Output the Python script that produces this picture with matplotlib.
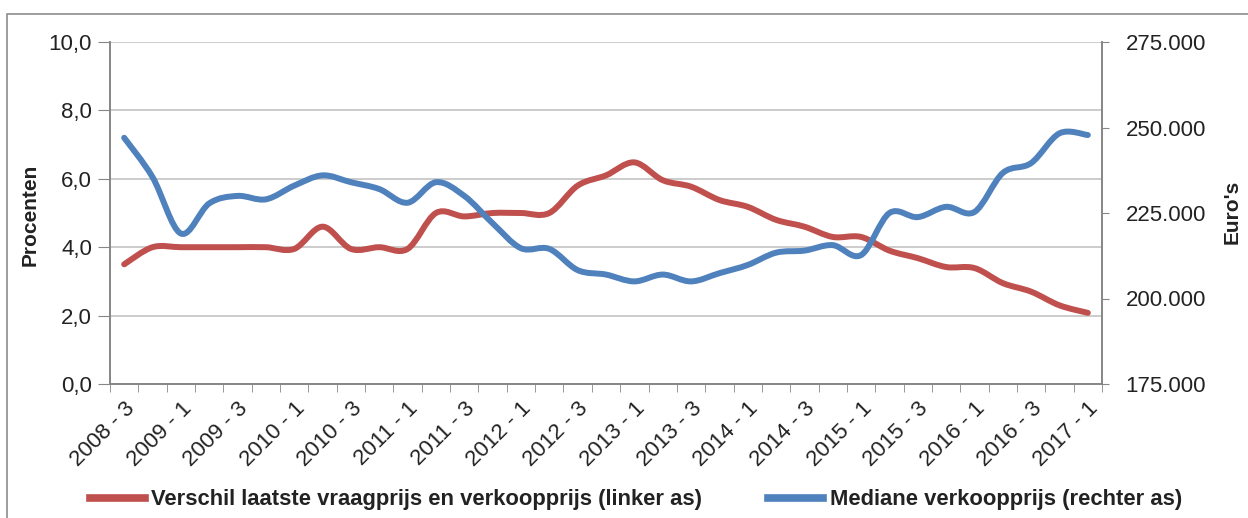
import matplotlib.pyplot as plt
import matplotlib.ticker as mticker
from matplotlib.path import Path
from matplotlib.patches import PathPatch, Rectangle
from matplotlib.lines import Line2D

plt.rcParams['font.family'] = ['Liberation Sans', 'DejaVu Sans']

# kwartalen 2008-3 t/m 2017-1
quarters = ['2008 - 3', '2008 - 4'] + [f'{y} - {q}' for y in range(2009, 2017) for q in range(1, 5)] + ['2017 - 1']

# verschil laatste vraagprijs en verkoopprijs (%)
verschil = [3.5, 4.0, 4.0, 4.0, 4.0, 4.0, 3.95, 4.6, 3.95, 4.0,
            3.95, 5.0, 4.9, 5.0, 5.0, 5.0, 5.8, 6.1, 6.48, 5.96,
            5.77, 5.38, 5.18, 4.8, 4.6, 4.3, 4.3, 3.9, 3.68, 3.42,
            3.39, 2.95, 2.7, 2.3, 2.08]

# mediane verkoopprijs (euro)
mediaan = [247000, 235500, 219000, 227800, 230000, 229000, 233000, 236000, 234000, 232000,
           228000, 234000, 230000, 222000, 214700, 214500, 208300, 207000, 205000, 207000,
           205000, 207400, 209800, 213400, 214000, 215600, 212700, 225000, 223800, 226800,
           225300, 236700, 239600, 248300, 247800]

RED = '#C0504D'
BLUE = '#4F81BD'
TXT = '#222222'
AXC = '#868686'


def smooth_path(x, y):
    # Catmull-Rom style bezier segments (zoals Excel "vloeiende lijn")
    n = len(x)
    verts = [(x[0], y[0])]
    codes = [Path.MOVETO]
    for i in range(n - 1):
        a = i - 1 if i > 0 else i
        d = i + 2 if i + 2 < n else i + 1
        c1 = (x[i] + (x[i + 1] - x[a]) / 6, y[i] + (y[i + 1] - y[a]) / 6)
        c2 = (x[i + 1] - (x[d] - x[i]) / 6, y[i + 1] - (y[d] - y[i]) / 6)
        verts += [c1, c2, (x[i + 1], y[i + 1])]
        codes += [Path.CURVE4] * 3
    return Path(verts, codes)


fig = plt.figure(figsize=(12.48, 5.18), dpi=100)
fig.patches.append(Rectangle((7 / 1248, -0.1), 1.2, 1 - 14 / 518 + 0.1, transform=fig.transFigure,
                             fill=False, edgecolor='#8c8c8c', lw=1.2))

ax = fig.add_axes([110 / 1248, 134 / 518, 992 / 1248, 342 / 518])
ax2 = ax.twinx()

xs = list(range(len(quarters)))
ax.add_patch(PathPatch(smooth_path(xs, verschil), fill=False, edgecolor=RED, lw=4.3,
                       capstyle='round', joinstyle='round', zorder=3))
ax2.add_patch(PathPatch(smooth_path(xs, mediaan), fill=False, edgecolor=BLUE, lw=4.3,
                        capstyle='round', joinstyle='round', zorder=3))

ax.set_xlim(-0.5, len(quarters) - 0.5)
ax.set_ylim(0, 10)
ax2.set_ylim(175000, 275000)

ax.set_yticks([0, 2, 4, 6, 8, 10])
ax.yaxis.set_major_formatter(mticker.FuncFormatter(lambda v, p: f'{v:.1f}'.replace('.', ',')))
ax2.set_yticks([175000, 200000, 225000, 250000, 275000])
ax2.yaxis.set_major_formatter(mticker.FuncFormatter(lambda v, p: f'{int(v):,}'.replace(',', '.')))

ax.set_xticks(xs[::2])
ax.set_xticklabels(quarters[::2], rotation=45, ha='right', va='top', rotation_mode='anchor')
ax.set_xticks([i - 0.5 for i in range(len(quarters) + 1)], minor=True)
ax.tick_params(axis='x', which='major', length=0, pad=10, labelsize=16, labelcolor=TXT)
ax.tick_params(axis='x', which='minor', length=6, color=AXC, direction='out')
ax.tick_params(axis='y', length=9, color=AXC, pad=4, labelsize=16, labelcolor=TXT)
ax2.tick_params(axis='y', length=5, color=AXC, pad=12, labelsize=16, labelcolor=TXT)

ax.grid(axis='y', color='#c4c4c4', lw=1.2)
ax.set_axisbelow(True)
for a in (ax, ax2):
    a.spines['top'].set_visible(False)
    for s in ('left', 'right', 'bottom'):
        a.spines[s].set_color(AXC)
        a.spines[s].set_linewidth(1.2)

fig.text(30 / 1248, 1 - 215 / 518, 'Procenten', rotation=90, ha='center', va='center',
         fontsize=15, fontweight='bold', color=TXT)
fig.text(1232 / 1248, 1 - 212 / 518, "Euro's", rotation=90, ha='center', va='center',
         fontsize=15, fontweight='bold', color=TXT)

handles = [Line2D([], [], color=RED, lw=5.5),
           Line2D([], [], color=BLUE, lw=5.5)]
labels = ['Verschil laatste vraagprijs en verkoopprijs (linker as)',
          'Mediane verkoopprijs (rechter as)']
fig.legend(handles, labels, ncol=2, loc='center', bbox_to_anchor=(636 / 1248, 1 - 500 / 518),
           frameon=False, prop={'size': 15.8, 'weight': 'bold'}, handlelength=2.5,
           handletextpad=0.3, columnspacing=3.0, labelcolor=TXT)

fig.savefig('out.png', dpi=100)
